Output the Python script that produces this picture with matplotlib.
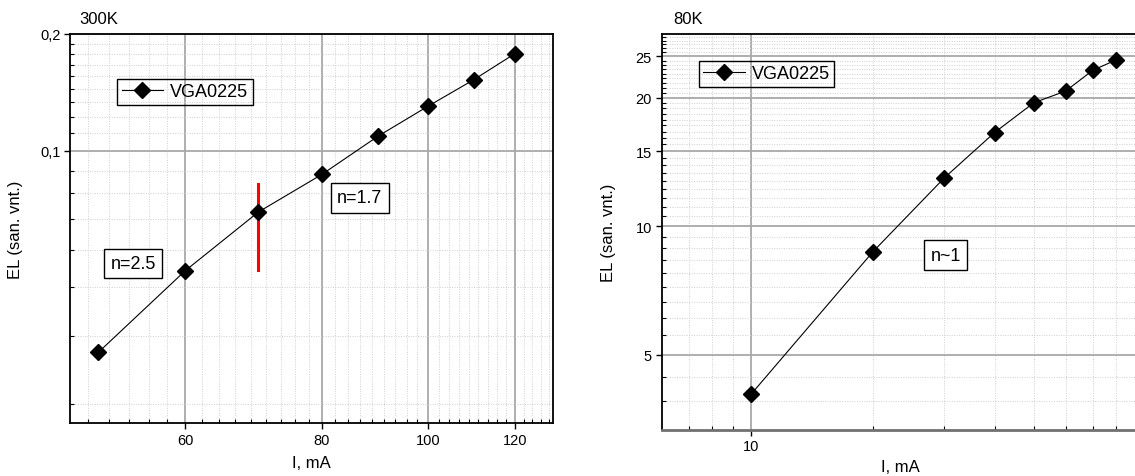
import numpy as np
import matplotlib
matplotlib.use("Agg")
import matplotlib.pyplot as plt
from matplotlib.ticker import FixedLocator, FuncFormatter, NullFormatter

plt.rcParams['font.family'] = ['Liberation Sans', 'DejaVu Sans']

# ---- data ----
I_300 = [50, 60, 70, 80, 90, 100, 110, 120]
EL_300 = [0.0302, 0.0490, 0.0695, 0.0869, 0.1090, 0.1303, 0.1523, 0.1780]
I_80 = [10, 20, 30, 40, 50, 60, 70, 80]
EL_80 = [4.05, 8.72, 12.97, 16.58, 19.46, 20.74, 23.19, 24.53]
red_x = [70, 70]
red_y = [0.0493, 0.0820]
series_label = "VGA0225"
xlabel = "I, mA"
ylabel = "EL (san. vnt.)"

fig = plt.figure(figsize=(11.35, 4.77), dpi=100)
ax1 = fig.add_axes([70/1135, 53/477, 483/1135, 389/477])
ax2 = fig.add_axes([661.7/1135, 46.3/477, 478.3/1135, 395.7/477])

major_grid = dict(color='#a8a8a8', linewidth=1.3, linestyle='-')
minor_grid = dict(color='#cfcfcf', linewidth=0.7, linestyle=(0, (1, 1.5)))

def style(ax, xmaj, xmin, ymaj, ymin):
    ax.set_xscale('log')
    ax.set_yscale('log')
    ax.xaxis.set_major_locator(FixedLocator(xmaj))
    ax.xaxis.set_minor_locator(FixedLocator(xmin))
    ax.yaxis.set_major_locator(FixedLocator(ymaj))
    ax.yaxis.set_minor_locator(FixedLocator(ymin))
    ax.xaxis.set_minor_formatter(NullFormatter())
    ax.yaxis.set_minor_formatter(NullFormatter())
    ax.grid(True, which='minor', **minor_grid)
    ax.grid(True, which='major', **major_grid)
    ax.set_axisbelow(True)
    ax.tick_params(which='major', direction='out', length=4, width=1, labelsize=10.5, pad=3)
    ax.tick_params(which='minor', direction='in', length=3, width=0.8)
    for s in ax.spines.values():
        s.set_linewidth(1.3)

def add_legend(ax, anchor):
    leg = ax.legend(loc='upper left', bbox_to_anchor=anchor, fontsize=13,
                    fancybox=False, framealpha=1, edgecolor='black', borderpad=0.25,
                    handlelength=2.3, handletextpad=0.4, borderaxespad=0)
    leg.get_frame().set_facecolor('none')
    leg.get_frame().set_linewidth(1.0)
    return leg

# ---- left: 300K ----
style(ax1, [60, 80, 100, 120], np.arange(40, 140, 20/9),
      [0.1, 0.2], np.arange(0.1/9, 0.25, 0.1/9))
ax1.set_xlim(47.1, 130)
ax1.set_ylim(0.01984, 0.2)
ax1.xaxis.set_major_formatter(FuncFormatter(lambda v, p: f"{v:g}"))
ax1.yaxis.set_major_formatter(FuncFormatter(lambda v, p: f"{v:g}".replace('.', ',')))
ax1.plot(red_x, red_y, color='red', linewidth=2.2, zorder=3)
ax1.plot(I_300, EL_300, color='black', linewidth=0.8, marker='D', markersize=8.5,
         markerfacecolor='black', markeredgecolor='black', label=series_label, zorder=4)
add_legend(ax1, (0.0975, 0.885))
box = dict(boxstyle='square,pad=0.35', facecolor='white', edgecolor='black', linewidth=1.0)
ax1.text(86.6, 0.0756, "n=1.7", fontsize=13, ha='center', va='center', bbox=box, zorder=5)
ax1.text(53.8, 0.0512, "n=2.5", fontsize=13, ha='center', va='center', bbox=box, zorder=5)
ax1.text(0.02, 1.02, "300K", transform=ax1.transAxes, fontsize=12, ha='left', va='bottom')
ax1.set_xlabel(xlabel, fontsize=12, labelpad=6)
ax1.set_ylabel(ylabel, fontsize=12, labelpad=12)

# ---- right: 80K ----
style(ax2, [10], [7, 8, 9, 20, 30, 40, 50, 60, 70, 80, 90],
      [5, 10, 15, 20, 25], np.arange(5/9, 30, 5/9))
ax2.set_xlim(6.0, 91.6)
ax2.set_ylim(3.34, 28.2)
ax2.xaxis.set_major_formatter(FuncFormatter(lambda v, p: f"{v:g}"))
ax2.yaxis.set_major_formatter(FuncFormatter(lambda v, p: f"{v:g}"))
ax2.spines['right'].set_visible(False)
ax2.spines['bottom'].set_color('#707070')
ax2.spines['bottom'].set_linewidth(2)
ax2.plot(I_80, EL_80, color='black', linewidth=0.8, marker='D', markersize=8.5,
         markerfacecolor='black', markeredgecolor='black', label=series_label, zorder=4)
add_legend(ax2, (0.0771, 0.933))
ax2.text(30.3, 8.56, "n~1", fontsize=13, ha='center', va='center', bbox=box, zorder=5)
ax2.text(0.025, 1.02, "80K", transform=ax2.transAxes, fontsize=12, ha='left', va='bottom')
ax2.set_xlabel(xlabel, fontsize=12, labelpad=4)
ax2.set_ylabel(ylabel, fontsize=12, labelpad=14)

fig.savefig("out.png", dpi=100)
